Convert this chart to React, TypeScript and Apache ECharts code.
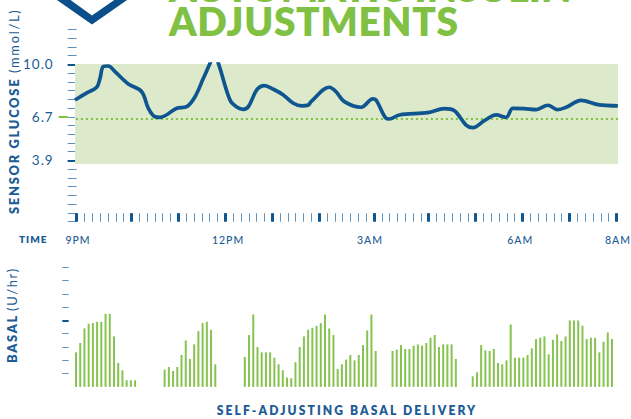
import React, { useEffect, useRef } from "react";
import * as echarts from "echarts";

const BLUE = "#0f5590";
const TEXT_BLUE = "#1d5c94";
const MINOR = "#5f93bd";
const GREEN = "#80c144";
const BAR_GREEN = "#86c350";
const BAND = "#dce9cb";

// Glucose, in mg/dL (10.0 mmol/L = 180), against the time-tick index.
const glucose: [number, number][] = [
  [-0.22, 139.2], [1.19, 146.9], [2.56, 153.8], [2.98, 164], [3.4, 177.4], [4.04, 178.1], [4.9, 171.6],
  [6.6, 157.6], [8.31, 148.7], [9.16, 129.7], [10.01, 120.1], [10.65, 119.4], [12.79, 129.7], [14.07, 131.6],
  [15.13, 143], [16.19, 164], [17.05, 181.2], [17.56, 190.7], [18.11, 181.2], [19.6, 139.2], [20.46, 131.2],
  [21.3, 128.6], [21.95, 131.6], [23.02, 150.7], [23.99, 155.6], [25.14, 151.5], [26.42, 145], [27.7, 135.5],
  [28.77, 132.4], [29.62, 133.5], [29.96, 137.3], [32.3, 153.8], [33.16, 148.7], [34.22, 137.3], [36.36, 130.9],
  [37.85, 140.4], [38.27, 139.2], [39.55, 118.3], [39.97, 117.5], [41.25, 122.1], [44.88, 124.7], [47, 129.3],
  [48.29, 127], [49.78, 110.6], [50.64, 107.6], [52.12, 115.6], [53.62, 122.1], [54.9, 119.4], [55.75, 129.7],
  [57.24, 129.3], [58.73, 128.2], [60.23, 133.2], [61.51, 128.2], [62.57, 130.9], [64.49, 138.9], [66.63, 133.9],
  [69.18, 132.4],
];

const basalA = [0.26, 0.33, 0.44, 0.475, 0.48, 0.49, 0.49, 0.55, 0.55, 0.38, 0.18, 0.125, 0.05, 0.05, 0.05];
const gapA = 6;
const basalB = [0.13, 0.15, 0.12, 0.15, 0.24, 0.35, 0.21, 0.32, 0.42, 0.48, 0.49, 0.43, 0.17];
const gapB = 6;
const basalC = [
  0.225, 0.39, 0.545, 0.3, 0.26, 0.26, 0.26, 0.22, 0.17, 0.125, 0.07, 0.065, 0.185, 0.3, 0.38, 0.43,
  0.445, 0.46, 0.48, 0.545, 0.44, 0.39, 0.135, 0.17, 0.205, 0.24, 0.2, 0.24, 0.315, 0.425, 0.545, 0.27,
];
const gapC = 3;
const basalD = [0.27, 0.28, 0.315, 0.285, 0.285, 0.31, 0.32, 0.31, 0.33, 0.37, 0.39, 0.3, 0.32, 0.32, 0.32, 0.21];
const gapD = 3;
const basalE = [
  0.08, 0.11, 0.315, 0.275, 0.27, 0.285, 0.18, 0.17, 0.2, 0.47, 0.22, 0.22, 0.22, 0.24, 0.29, 0.36, 0.37,
  0.38, 0.245, 0.355, 0.395, 0.345, 0.38, 0.5, 0.5, 0.5, 0.46, 0.36, 0.37, 0.37, 0.26, 0.34, 0.41, 0.36,
];

const gap = (n: number): null[] => new Array(n).fill(null);
const basal = [
  ...basalA, ...gap(gapA), ...basalB, ...gap(gapB), ...basalC, ...gap(gapC), ...basalD, ...gap(gapD), ...basalE,
];

const glucoseTicksMajor = [70, 180];
const glucoseTickTarget = [120];
const glucoseLabels: Record<number, string> = { 180: "10.0", 120: "6.7", 70: "3.9" };
const rangeLow = 66;
const rangeHigh = 180.4;
const target = 118;

const timeMajorTicks = [0, 7, 13, 19, 25, 31, 38, 45, 51, 57, 63, 69];
const timeTickValues = Array.from({ length: 70 }, (_, i) => i);
const timeLabels: [number, string][] = [
  [0.17, "9PM"], [19.35, "12PM"], [37.5, "3AM"], [56.7, "6AM"], [69.2, "8AM"],
];

const basalTicks = [0.1, 0.2, 0.3, 0.4, 0.6, 0.7, 0.8, 0.9];
const basalMajor = [0.5];

const titleTop = "AUTOMATIC INSULIN";
const titleBottom = "ADJUSTMENTS";

const shieldPath = "M51.2 -4 L92 24.5 L132.8 -4 L120 -4 L92 15.5 L65 -4 Z";

const font = "Lato, 'Open Sans', sans-serif";
const spacingCss = `
text[style*="12.9px"]{letter-spacing:1.7px}
text[style*="12.1px"]{letter-spacing:2.1px}
text[style*="39.1px"]{letter-spacing:0.1px}
text[style*="38.9px"]{letter-spacing:0.65px}
`;

export default function App() {
  const ref = useRef<HTMLDivElement>(null);
  useEffect(() => {
    if (!ref.current) return;
    echarts.graphic.registerShape("shield", echarts.graphic.extendPath(shieldPath, {}) as any);
    const chart = echarts.init(ref.current, undefined, { renderer: "svg" });
    const L = 75;
    const R = 13;
    chart.setOption({
      animation: false,
      backgroundColor: "#fff",
      grid: [
        { left: L, right: R, top: 29.3, height: 192.4, outerBoundsMode: "none" },
        { left: L, right: R, top: 64, height: 157.7, outerBoundsMode: "none" },
        { left: 73.9, width: 540.2, top: 267.3, height: 119.6, outerBoundsMode: "none" },
      ],
      xAxis: [
        {
          type: "value", gridIndex: 0, min: -0.217, max: 69.2, position: "bottom",
          splitLine: { show: false }, axisLine: { show: false },
          axisTick: { show: true, inside: true, length: 8.5, customValues: timeTickValues, lineStyle: { color: MINOR, width: 1 } },
          axisLabel: {
            show: true, margin: 13, customValues: timeLabels.map((d) => d[0]),
            formatter: (v: number) => (timeLabels.find((d) => Math.abs(d[0] - v) < 1e-6) || [0, ""])[1],
            color: TEXT_BLUE, fontFamily: font, fontSize: 10.5, fontWeight: 500,
            hideOverlap: false, showMinLabel: true, showMaxLabel: true, alignMinLabel: "center", alignMaxLabel: "center",
          },
        },
        {
          type: "value", gridIndex: 0, min: -0.217, max: 69.2, position: "bottom",
          splitLine: { show: false }, axisLine: { show: false }, axisLabel: { show: false },
          axisTick: { show: true, inside: true, length: 8.5, customValues: timeMajorTicks, lineStyle: { color: BLUE, width: 3 } },
        },
        { type: "value", gridIndex: 1, min: -0.217, max: 69.2, show: false },
        {
          type: "category", gridIndex: 2, data: basal.map((_, i) => String(i)),
          axisLine: { show: false }, axisTick: { show: false }, axisLabel: { show: false },
        },
      ],
      yAxis: [
        {
          type: "value", gridIndex: 0, position: "left", min: 0, max: 220, interval: 10, offset: 7.3,
          splitLine: { show: false }, axisLine: { show: false }, axisLabel: { show: false },
          axisTick: { show: true, length: 9, lineStyle: { color: MINOR, width: 1 } },
        },
        {
          type: "value", gridIndex: 0, position: "left", min: 0, max: 220, offset: 7.3,
          splitLine: { show: false }, axisLine: { show: false },
          axisTick: { show: true, length: 9, customValues: glucoseTicksMajor, lineStyle: { color: BLUE, width: 2 } },
          axisLabel: {
            show: true, margin: 14, customValues: [...glucoseTicksMajor, ...glucoseTickTarget],
            formatter: (v: number) => glucoseLabels[v] || "",
            color: (v: number) => (glucoseTickTarget.indexOf(v) >= 0 ? "#8cc152" : TEXT_BLUE),
            fontFamily: font, fontSize: 13.5,
          },
        },
        {
          type: "value", gridIndex: 0, position: "left", min: 0, max: 220, offset: 7.3,
          splitLine: { show: false }, axisLine: { show: false }, axisLabel: { show: false },
          axisTick: { show: true, length: 9, customValues: glucoseTickTarget, lineStyle: { color: GREEN, width: 2 } },
        },
        { type: "value", gridIndex: 1, min: 0, max: rangeHigh, show: false },
        {
          type: "value", gridIndex: 2, position: "left", min: 0, max: 0.9, offset: 5.2,
          splitLine: { show: false }, axisLine: { show: false }, axisLabel: { show: false },
          axisTick: { show: true, length: 6.4, customValues: basalTicks, lineStyle: { color: MINOR, width: 1 } },
        },
        {
          type: "value", gridIndex: 2, position: "left", min: 0, max: 0.9, offset: 5.2,
          splitLine: { show: false }, axisLine: { show: false }, axisLabel: { show: false },
          axisTick: { show: true, length: 6.4, customValues: basalMajor, lineStyle: { color: BLUE, width: 2 } },
        },
      ],
      series: [
        {
          type: "line", xAxisIndex: 2, yAxisIndex: 3, data: [], z: 1, silent: true,
          markArea: {
            silent: true, itemStyle: { color: BAND, opacity: 1 }, label: { show: false },
            data: [[{ xAxis: -0.217, yAxis: rangeLow }, { xAxis: 69.2, yAxis: rangeHigh }]],
          },
          markLine: {
            silent: true, symbol: "none", label: { show: false },
            lineStyle: { color: GREEN, type: [2, 3], width: 2 },
            data: [[{ xAxis: -0.1, yAxis: target }, { xAxis: 69.2, yAxis: target }]],
          },
        },
        {
          type: "line", xAxisIndex: 2, yAxisIndex: 3, data: glucose, smooth: 0.35, clip: true,
          showSymbol: false, z: 5, lineStyle: { color: BLUE, width: 3.7 },
        },
        {
          type: "bar", xAxisIndex: 3, yAxisIndex: 4, data: basal, barWidth: 2,
          itemStyle: { color: BAR_GREEN },
        },
      ],
      graphic: [
        { type: "shield", x: 0, y: 0, style: { fill: "#0b4f8a" } },
        { type: "text", x: 169, y: 5.5, style: { text: titleTop, font: `800 39.1px ${font}`, fill: GREEN, textAlign: "left", textVerticalAlign: "bottom" } },
        { type: "text", x: 169, y: 40, style: { text: titleBottom, font: `800 38.9px ${font}`, fill: GREEN, textAlign: "left", textVerticalAlign: "bottom" } },
        { type: "text", x: 14, y: 214, rotation: Math.PI / 2, style: { text: "SENSOR GLUCOSE", font: `800 12.9px ${font}`, fill: TEXT_BLUE, textAlign: "left", textVerticalAlign: "middle" } },
        { type: "text", x: 14, y: 73, rotation: Math.PI / 2, style: { text: "(mmol/L)", font: `400 12.9px ${font}`, fill: TEXT_BLUE, textAlign: "left", textVerticalAlign: "middle" } },
        { type: "text", x: 12, y: 363, rotation: Math.PI / 2, style: { text: "BASAL", font: `800 12.9px ${font}`, fill: TEXT_BLUE, textAlign: "left", textVerticalAlign: "middle" } },
        { type: "text", x: 12, y: 311, rotation: Math.PI / 2, style: { text: "(U/hr)", font: `400 12.9px ${font}`, fill: TEXT_BLUE, textAlign: "left", textVerticalAlign: "middle" } },
        { type: "text", x: 19, y: 239, style: { text: "TIME", font: `800 10px ${font}`, fill: TEXT_BLUE, textAlign: "left", textVerticalAlign: "middle" } },
        { type: "text", x: 347, y: 410, style: { text: "SELF-ADJUSTING BASAL DELIVERY", font: `800 12.1px ${font}`, fill: TEXT_BLUE, textAlign: "center", textVerticalAlign: "middle" } },
      ],
    });
    return () => chart.dispose();
  }, []);
  return (
    <>
      <style>{spacingCss}</style>
      <div
        ref={ref}
        style={{ position: "absolute", left: 0, top: 0, width: 631, height: 419, letterSpacing: "1px", overflow: "hidden" }}
      />
    </>
  );
}
